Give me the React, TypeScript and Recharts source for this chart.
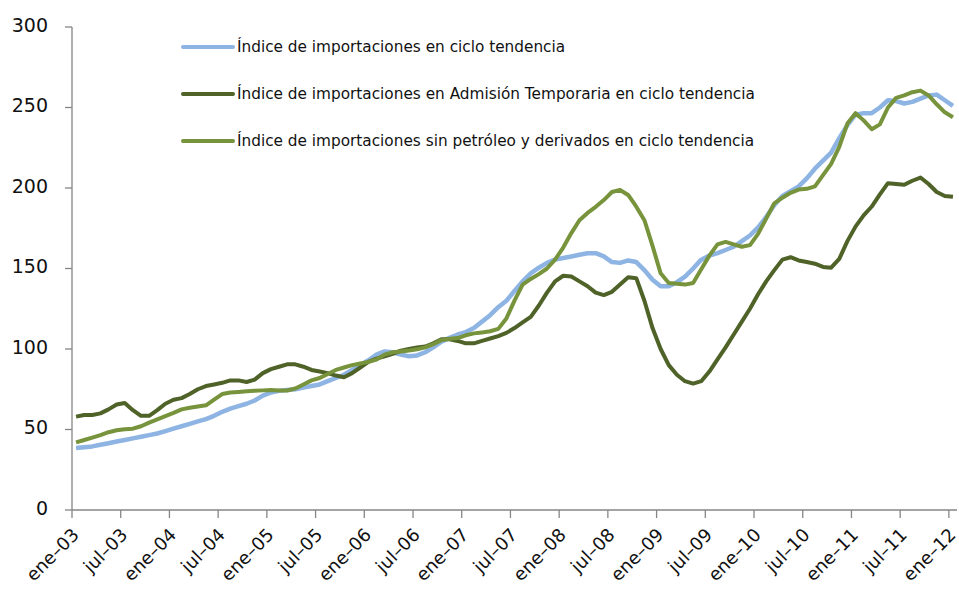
import { LineChart, Line, XAxis, YAxis, Legend } from "recharts";

const tickLabels = [
  "ene–03", "jul–03", "ene–04", "jul–04", "ene–05", "jul–05", "ene–06", "jul–06",
  "ene–07", "jul–07", "ene–08", "jul–08", "ene–09", "jul–09", "ene–10", "jul–10",
  "ene–11", "jul–11", "ene–12",
];

const seriesNames = [
  "Índice de importaciones en ciclo tendencia",
  "Índice de importaciones en Admisión Temporaria en ciclo tendencia",
  "Índice de importaciones sin petróleo y derivados en ciclo tendencia",
];
const seriesColors = ["#8DB4E3", "#4F6228", "#77933C"];

// monthly values, ene-03 .. ene-12
const importaciones = [
  38.5, 39, 39.5, 40.5, 41.5, 42.5, 43.5, 44.5, 45.5, 46.5, 47.5, 49,
  50.5, 52, 53.5, 55, 56.5, 58.5, 61, 63, 64.5, 66, 68, 71,
  73, 74, 74.5, 75, 76, 77, 78, 80, 82, 84, 87, 90,
  93, 96.5, 98.5, 98, 96.5, 95.5, 96, 98, 101, 104.5, 107, 109,
  110.5, 113, 117, 121, 126, 130, 136, 142, 147, 150.5, 153.5, 155.5,
  156.5, 157.5, 158.5, 159.5, 159.5, 157.5, 154, 153.5, 155, 154, 149, 143,
  139, 139, 141.5, 145, 150, 155.5, 158, 159.5, 161.5, 163.5, 167, 170.5,
  175.5, 182, 189.5, 195, 198, 201, 206, 212, 217, 222, 231, 239,
  245.5, 246.5, 246.5, 250, 254.5, 254, 252.5, 253.5, 255.5, 257.5, 258, 254.5,
  251,
];

const admisionTemporaria = [
  58, 59, 59, 60, 62.5, 65.5, 66.5, 62, 58.5, 58.5, 62, 66,
  68.5, 69.5, 72, 75, 77, 78, 79, 80.5, 80.5, 79.5, 81, 85,
  87.5, 89, 90.5, 90.5, 89, 87, 86, 85, 83.5, 82.5, 85, 88.5,
  92, 94, 95.5, 97, 99, 100, 101, 101.5, 103.5, 106, 106, 105,
  103.5, 103.5, 105, 106.5, 108, 110, 113, 116.5, 120, 127, 135, 142,
  145.5, 145, 142, 139, 135, 133.5, 135.5, 140, 144.5, 144, 130, 113,
  100, 90, 84, 80, 78.5, 80, 86, 93.5, 101, 109, 117, 125,
  134, 142, 149, 155.5, 157, 155, 154, 153, 151, 150.5, 156, 167,
  176, 183, 188.5, 196, 203, 202.5, 202, 204.5, 206.5, 202.5, 197.5, 195,
  194.5,
];

const sinPetroleo = [
  42, 43.5, 45, 46.5, 48.3, 49.5, 50.2, 50.5, 52, 54.3, 56.3, 58.3,
  60.3, 62.5, 63.5, 64.3, 65, 68.5, 72, 73, 73.3, 73.7, 74, 74.3,
  74.5, 74.3, 74.2, 75.5, 78, 80.5, 82, 84.5, 87, 88.5, 90, 91,
  92, 93.5, 96.5, 98, 98.5, 99, 99.8, 101, 103, 105.5, 106.3, 106.8,
  108.5, 109.7, 110.3, 111, 112.5, 119, 130, 140, 143.5, 146.5, 150, 155.5,
  163, 172, 180, 184.5, 188.3, 192.5, 197.5, 198.8, 195.7, 188.4, 180, 164,
  147, 141, 140.5, 140, 141, 149.5, 158, 165, 166.5, 165, 163.5, 164.5,
  171.5, 181, 190.5, 194, 197, 199, 199.5, 201, 208, 215, 225.5, 240,
  246.5, 242, 236.5, 239.5, 250, 256, 257.5, 259.5, 260.5, 257.5, 252, 247,
  244,
];

const yTicks = [0, 50, 100, 150, 200, 250, 300];

const data = importaciones.map((v, i) => ({
  mes: i + 0.5,
  importaciones: v,
  admision: admisionTemporaria[i],
  sinPetroleo: sinPetroleo[i],
}));
const xTicks = tickLabels.map((_, i) => i * 6);

const FONT = "'DejaVu Sans', Verdana, sans-serif";
const AXIS = "#868686";

const XTick = ({ x, y, payload }: any) => (
  <g transform={`translate(${x + 8},${y + 18})`}>
    <text textAnchor="end" transform="rotate(-45)" fontSize={18} fontFamily={FONT} fill="#111">
      {tickLabels[Math.round(payload.value / 6)]}
    </text>
  </g>
);

// legend keeps the series order of the source chart
const LegendBox = () => (
  <div style={{ fontFamily: FONT, fontSize: 15.3, color: "#111" }}>
    {seriesNames.map((name, i) => (
      <div key={name} style={{ display: "flex", alignItems: "center", height: 47.2 }}>
        <svg width={57} height={8} style={{ flex: "none" }}>
          <line x1={3} y1={4} x2={53} y2={4} stroke={seriesColors[i]} strokeWidth={4} strokeLinecap="round" />
        </svg>
        <span style={{ whiteSpace: "nowrap" }}>{name}</span>
      </div>
    ))}
  </div>
);

export default function App() {
  return (
    <div style={{ position: "absolute", left: 0, top: 0, background: "#fff" }}>
      <LineChart width={959} height={594} data={data} margin={{ top: 27, right: 2, bottom: 0, left: 0 }}>
        <XAxis
          type="number"
          dataKey="mes"
          domain={[0, 109]}
          ticks={xTicks}
          interval={0}
          height={84}
          tickSize={8}
          tickMargin={0}
          stroke={AXIS}
          strokeWidth={1.3}
          tick={<XTick />}
        />
        <YAxis
          domain={[0, 300]}
          ticks={yTicks}
          interval={0}
          width={72}
          tickSize={7}
          tickMargin={17}
          stroke={AXIS}
          strokeWidth={1.3}
          tick={{ fontSize: 19, fontFamily: FONT, fill: "#111", dy: -2 }}
        />
        <Legend
          layout="horizontal"
          verticalAlign="middle"
          align="center"
          content={<LegendBox />}
          wrapperStyle={{ top: 23, left: 180, width: "auto" }}
        />
        <Line type="linear" dataKey="importaciones" name={seriesNames[0]} stroke={seriesColors[0]} strokeWidth={4.5} strokeLinejoin="round" dot={false} isAnimationActive={false} />
        <Line type="linear" dataKey="admision" name={seriesNames[1]} stroke={seriesColors[1]} strokeWidth={4} strokeLinejoin="round" dot={false} isAnimationActive={false} />
        <Line type="linear" dataKey="sinPetroleo" name={seriesNames[2]} stroke={seriesColors[2]} strokeWidth={4} strokeLinejoin="round" dot={false} isAnimationActive={false} />
      </LineChart>
    </div>
  );
}
